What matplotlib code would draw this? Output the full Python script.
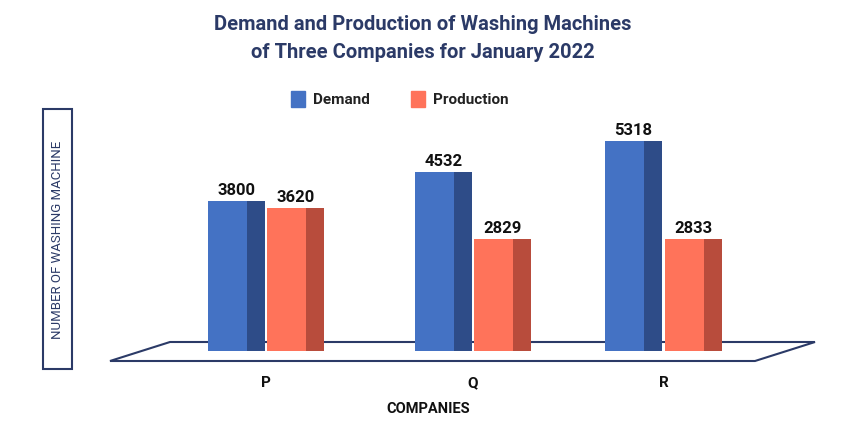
import matplotlib
matplotlib.use("Agg")
import matplotlib.pyplot as plt
from matplotlib.patches import Polygon, Rectangle

companies = ["P", "Q", "R"]
demand = [3800, 4532, 5318]
production = [3620, 2829, 2833]

fig = plt.figure(figsize=(8.54, 4.31), dpi=100)
ax = fig.add_axes([0, 0, 1, 1])
ax.set_xlim(0, 854); ax.set_ylim(431, 0); ax.axis("off")

navy = "#2b3a67"
ax.text(423, 25, "Demand and Production of Washing Machines", ha="center", va="center",
        fontsize=14.5, fontweight="bold", color=navy, family="Roboto")
ax.text(423, 52, "of Three Companies for January 2022", ha="center", va="center",
        fontsize=14.5, fontweight="bold", color=navy, family="Roboto")

ax.add_patch(Rectangle((291, 92), 14, 16, color="#4472c4"))
ax.text(313, 100, "Demand", va="center", fontsize=11, fontweight="bold", color="#222", family="Roboto")
ax.add_patch(Rectangle((411, 92), 14, 16, color="#ff735a"))
ax.text(433, 100, "Production", va="center", fontsize=11, fontweight="bold", color="#222", family="Roboto")

ax.add_patch(Rectangle((43, 110), 29, 260, fill=False, ec=navy, lw=1.5))
ax.text(57.5, 240, "NUMBER OF WASHING MACHINE", rotation=90, ha="center", va="center",
        fontsize=9.5, color=navy, family="Roboto")

ax.add_patch(Polygon([(110, 362), (170, 343), (815, 343), (755, 362)], closed=True,
                     fill=False, ec=navy, lw=1.5))

base = 352
scale = 0.0395
dem_x = [208, 415, 605]
prod_x = [267, 474, 665]
fw, sw = 39, 18
for i, c in enumerate(companies):
    for x, v, fc, sc in [(dem_x[i], demand[i], "#4472c4", "#2e4c88"),
                         (prod_x[i], production[i], "#ff735a", "#b84c3c")]:
        h = v * scale
        ax.bar(x, -h, width=fw, bottom=base, align="edge", color=fc)
        ax.bar(x + fw, -h, width=sw, bottom=base, align="edge", color=sc)
        ax.text(x + (fw + sw) / 2, base - h - 4, str(v), ha="center", va="bottom",
                fontsize=12, fontweight="bold", color="#111", family="Roboto")
    ax.text((dem_x[i] + prod_x[i] + fw + sw) / 2, 383, c, ha="center", va="center",
            fontsize=11, fontweight="bold", color="#111", family="Roboto")

ax.text(428, 409, "COMPANIES", ha="center", va="center", fontsize=10.5,
        fontweight="bold", color="#111", family="Roboto")

fig.savefig("out.png", dpi=100)
